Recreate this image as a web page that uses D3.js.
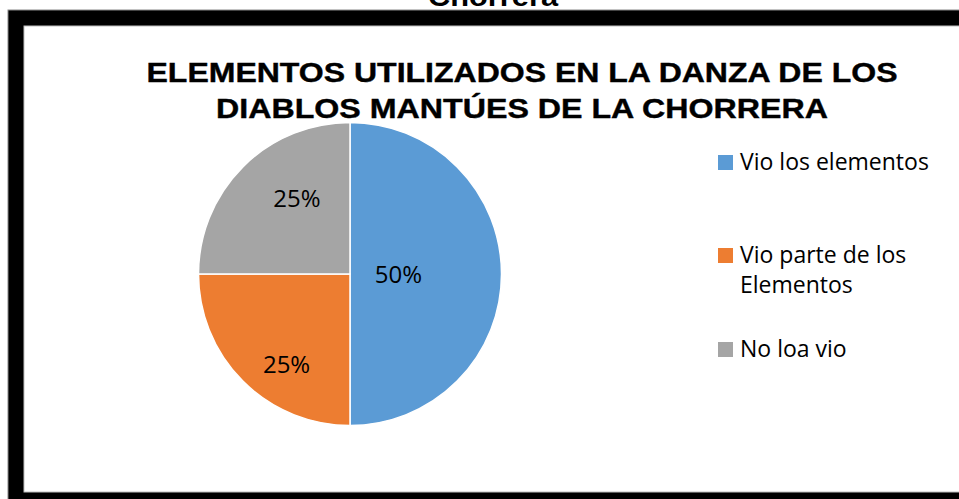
<!DOCTYPE html>
<html>
<head>
<meta charset="utf-8">
<script src="https://cdn.jsdelivr.net/npm/d3@7"></script>
<style>
    body { margin: 0; background: #fff; }
    svg { display: block; }
</style>
</head>
<body>
<svg id="chart" width="959" height="499"></svg>
<script>
const categories = ["Vio los elementos", "Vio parte de los Elementos", "No loa vio"];
const values = [50, 25, 25];
const colors = ["#5B9BD5", "#ED7D31", "#A5A5A5"];
const titleLines = ["ELEMENTOS UTILIZADOS EN LA DANZA DE LOS", "DIABLOS MANTÚES DE LA CHORRERA"];
const caption = "Chorrera";

document.addEventListener("DOMContentLoaded", function() {
    const svg = d3.select("#chart");

    // caption of the page above, cut by the screenshot edge
    svg.append("text")
        .attr("x", 493)
        .attr("y", 6)
        .attr("text-anchor", "middle")
        .attr("font-family", "Liberation Sans, Arial, sans-serif")
        .attr("font-weight", "bold")
        .attr("font-size", 28)
        .attr("textLength", 130)
        .attr("lengthAdjust", "spacingAndGlyphs")
        .text(caption);

    // black frame
    svg.append("rect")
        .attr("x", 8).attr("y", 10)
        .attr("width", 960).attr("height", 500)
        .attr("fill", "#000")
        .attr("stroke", "#888").attr("stroke-width", 1);
    svg.append("rect")
        .attr("x", 24).attr("y", 26)
        .attr("width", 950).attr("height", 466)
        .attr("fill", "#fff")
        .attr("stroke", "#bfbfbf").attr("stroke-width", 1);

    // title
    const titleWidths = [751, 612];
    svg.selectAll(".title")
        .data(titleLines)
        .enter()
        .append("text")
        .attr("class", "title")
        .attr("x", 522)
        .attr("y", (d, i) => 82 + i * 36)
        .attr("text-anchor", "middle")
        .attr("font-family", "Liberation Sans, Arial, sans-serif")
        .attr("font-weight", "bold")
        .attr("font-size", 27)
        .attr("stroke", "#000")
        .attr("stroke-width", 0.4)
        .attr("textLength", (d, i) => titleWidths[i])
        .attr("lengthAdjust", "spacingAndGlyphs")
        .text(d => d);

    // pie
    const cx = 350, cy = 274, radius = 151.5;
    const total = d3.sum(values);
    const pie = d3.pie().sort(null).value(d => d);
    const arcs = pie(values);
    const arc = d3.arc().innerRadius(0).outerRadius(radius);

    const g = svg.append("g").attr("transform", `translate(${cx},${cy})`);

    g.selectAll("path")
        .data(arcs)
        .enter()
        .append("path")
        .attr("d", arc)
        .attr("fill", (d, i) => colors[i])
        .attr("stroke", "#fff")
        .attr("stroke-width", 1.5);

    // label placement (Excel best fit look)
    const labelR = [0.32, 0.73, 0.61];
    const labelNudge = [0, -10, 10].map(a => a * Math.PI / 180);
    g.selectAll(".pct")
        .data(arcs)
        .enter()
        .append("text")
        .attr("class", "pct")
        .attr("x", (d, i) => {
            const a = (d.startAngle + d.endAngle) / 2 + labelNudge[i];
            return Math.sin(a) * radius * labelR[i];
        })
        .attr("y", (d, i) => {
            const a = (d.startAngle + d.endAngle) / 2 + labelNudge[i];
            return -Math.cos(a) * radius * labelR[i];
        })
        .attr("dy", "0.36em")
        .attr("text-anchor", "middle")
        .attr("font-family", "Open Sans, sans-serif")
        .attr("font-size", 24)
        .attr("fill", "#000")
        .text(d => Math.round(d.data / total * 100) + "%");

    // legend
    const legendY = [155, 248, 342];
    const legend = svg.selectAll(".legend")
        .data(categories)
        .enter()
        .append("g")
        .attr("class", "legend")
        .attr("transform", (d, i) => `translate(718,${legendY[i]})`);

    legend.append("rect")
        .attr("width", 15)
        .attr("height", 15)
        .attr("fill", (d, i) => colors[i]);

    legend.append("text")
        .attr("x", 22)
        .attr("y", 15)
        .attr("font-family", "Open Sans, sans-serif")
        .attr("font-size", 23)
        .attr("fill", "#000")
        .each(function(d) {
            const t = d3.select(this);
            const lines = d === "Vio parte de los Elementos" ? ["Vio parte de los", "Elementos"] : [d];
            lines.forEach((line, j) => {
                t.append("tspan")
                    .attr("x", 22)
                    .attr("dy", j === 0 ? 0 : 30)
                    .text(line);
            });
        });
});
</script>
</body>
</html>
